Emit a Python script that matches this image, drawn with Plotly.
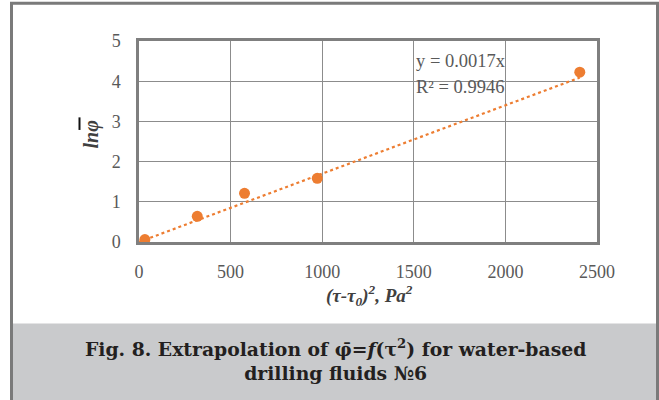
import plotly.graph_objects as go

# data
x_vals = [32, 318, 576, 973, 2406]
y_vals = [0.06, 0.64, 1.21, 1.585, 4.225]
slope = 0.0017
r2 = 0.9946
x_ticks = [0, 500, 1000, 1500, 2000, 2500]
y_ticks = [0, 1, 2, 3, 4, 5]

ORANGE = "#ED7D31"
GRID = "#8c8c8c"
TXT = "#595959"
SERIF = "Liberation Serif"
WIDE = "DejaVu Serif"

fig = go.Figure()
trend_x = [0, max(x_vals)]
fig.add_trace(go.Scatter(x=trend_x, y=[slope * v for v in trend_x], mode="lines",
                         line=dict(color=ORANGE, width=2.2, dash="dot"), hoverinfo="skip"))
fig.add_trace(go.Scatter(x=x_vals, y=y_vals, mode="markers",
                         marker=dict(color=ORANGE, size=11)))

fig.update_layout(
    width=659, height=400,
    margin=dict(l=139, r=62, t=41, b=158),
    paper_bgcolor="white", plot_bgcolor="white",
    showlegend=False,
    font=dict(family=SERIF, color=TXT, size=17),
    xaxis=dict(range=[0, 2500], tickvals=x_ticks, showgrid=True, gridcolor=GRID, gridwidth=1,
               zeroline=False, showline=True, linecolor="#7f7f7f", linewidth=2.5, mirror=True,
               ticks="", ticklabelstandoff=12, tickfont=dict(family=SERIF, size=18, color=TXT)),
    yaxis=dict(range=[0, 5], tickvals=y_ticks, showgrid=True, gridcolor=GRID, gridwidth=1,
               zeroline=False, showline=True, linecolor="#7f7f7f", linewidth=2.5, mirror=True,
               ticks="", ticklabelstandoff=12, tickfont=dict(family=SERIF, size=18, color=TXT)),
)

fig.update_layout(shapes=[
    # grey caption band
    dict(type="rect", xref="paper", yref="paper", layer="below",
         x0=(13 - 139) / 458, x1=(656 - 139) / 458,
         y0=(242 - 400) / 200, y1=(242 - 323) / 200,
         fillcolor="#c9cacc", line=dict(width=0)),
    # outer frame
    dict(type="rect", xref="paper", yref="paper", layer="above",
         x0=(11.5 - 139) / 458, x1=(657.5 - 139) / 458,
         y0=(242 - 402) / 200, y1=(242 - 4.5) / 200,
         line=dict(color="#7a7a7a", width=3), fillcolor="rgba(0,0,0,0)"),
    # bar over phi in the y-axis title
    dict(type="line", xref="paper", yref="paper", layer="above",
         x0=(79.5 - 139) / 458, x1=(79.5 - 139) / 458,
         y0=(242 - 118) / 200, y1=(242 - 130.5) / 200,
         line=dict(color="#111111", width=2)),
])

fig.add_annotation(xref="paper", yref="paper", x=(414 - 139) / 458, y=(242 - 62) / 200,
                   xanchor="left", yanchor="middle", showarrow=False,
                   text=f"y = {slope}x", font=dict(family=SERIF, size=18.5, color=TXT))
fig.add_annotation(xref="paper", yref="paper", x=(414 - 139) / 458, y=(242 - 88) / 200,
                   xanchor="left", yanchor="middle", showarrow=False,
                   text=f"R² = {r2}", font=dict(family=SERIF, size=18.5, color=TXT))

# axis titles
fig.add_annotation(xref="paper", yref="paper", x=(91 - 139) / 458, y=(242 - 135) / 200,
                   xanchor="center", yanchor="middle", showarrow=False, textangle=-90,
                   text="<b><i>ln\u03c6</i></b>", font=dict(family=SERIF, size=20, color="#404040"))
fig.add_annotation(xref="paper", yref="paper", x=(369 - 139) / 458, y=(242 - 295) / 200,
                   xanchor="center", yanchor="middle", showarrow=False,
                   text="<b><i>(\u03c4-\u03c4<sub>0</sub>)<sup>2</sup>, Pa<sup>2</sup></i></b>",
                   font=dict(family=SERIF, size=19, color="#404040"))

# caption
fig.add_annotation(xref="paper", yref="paper", x=(335 - 139) / 458, y=(242 - 359) / 200,
                   xanchor="center", yanchor="middle", showarrow=False, align="center",
                   text="<b>Fig. 8. Extrapolation of \u03c6\u0304=<i>f</i>(\u03c4<sup>2</sup>) for water-based<br>drilling fluids \u21166</b>",
                   font=dict(family=WIDE, size=18.8, color="#231f20"))

fig.write_html("out.html")
